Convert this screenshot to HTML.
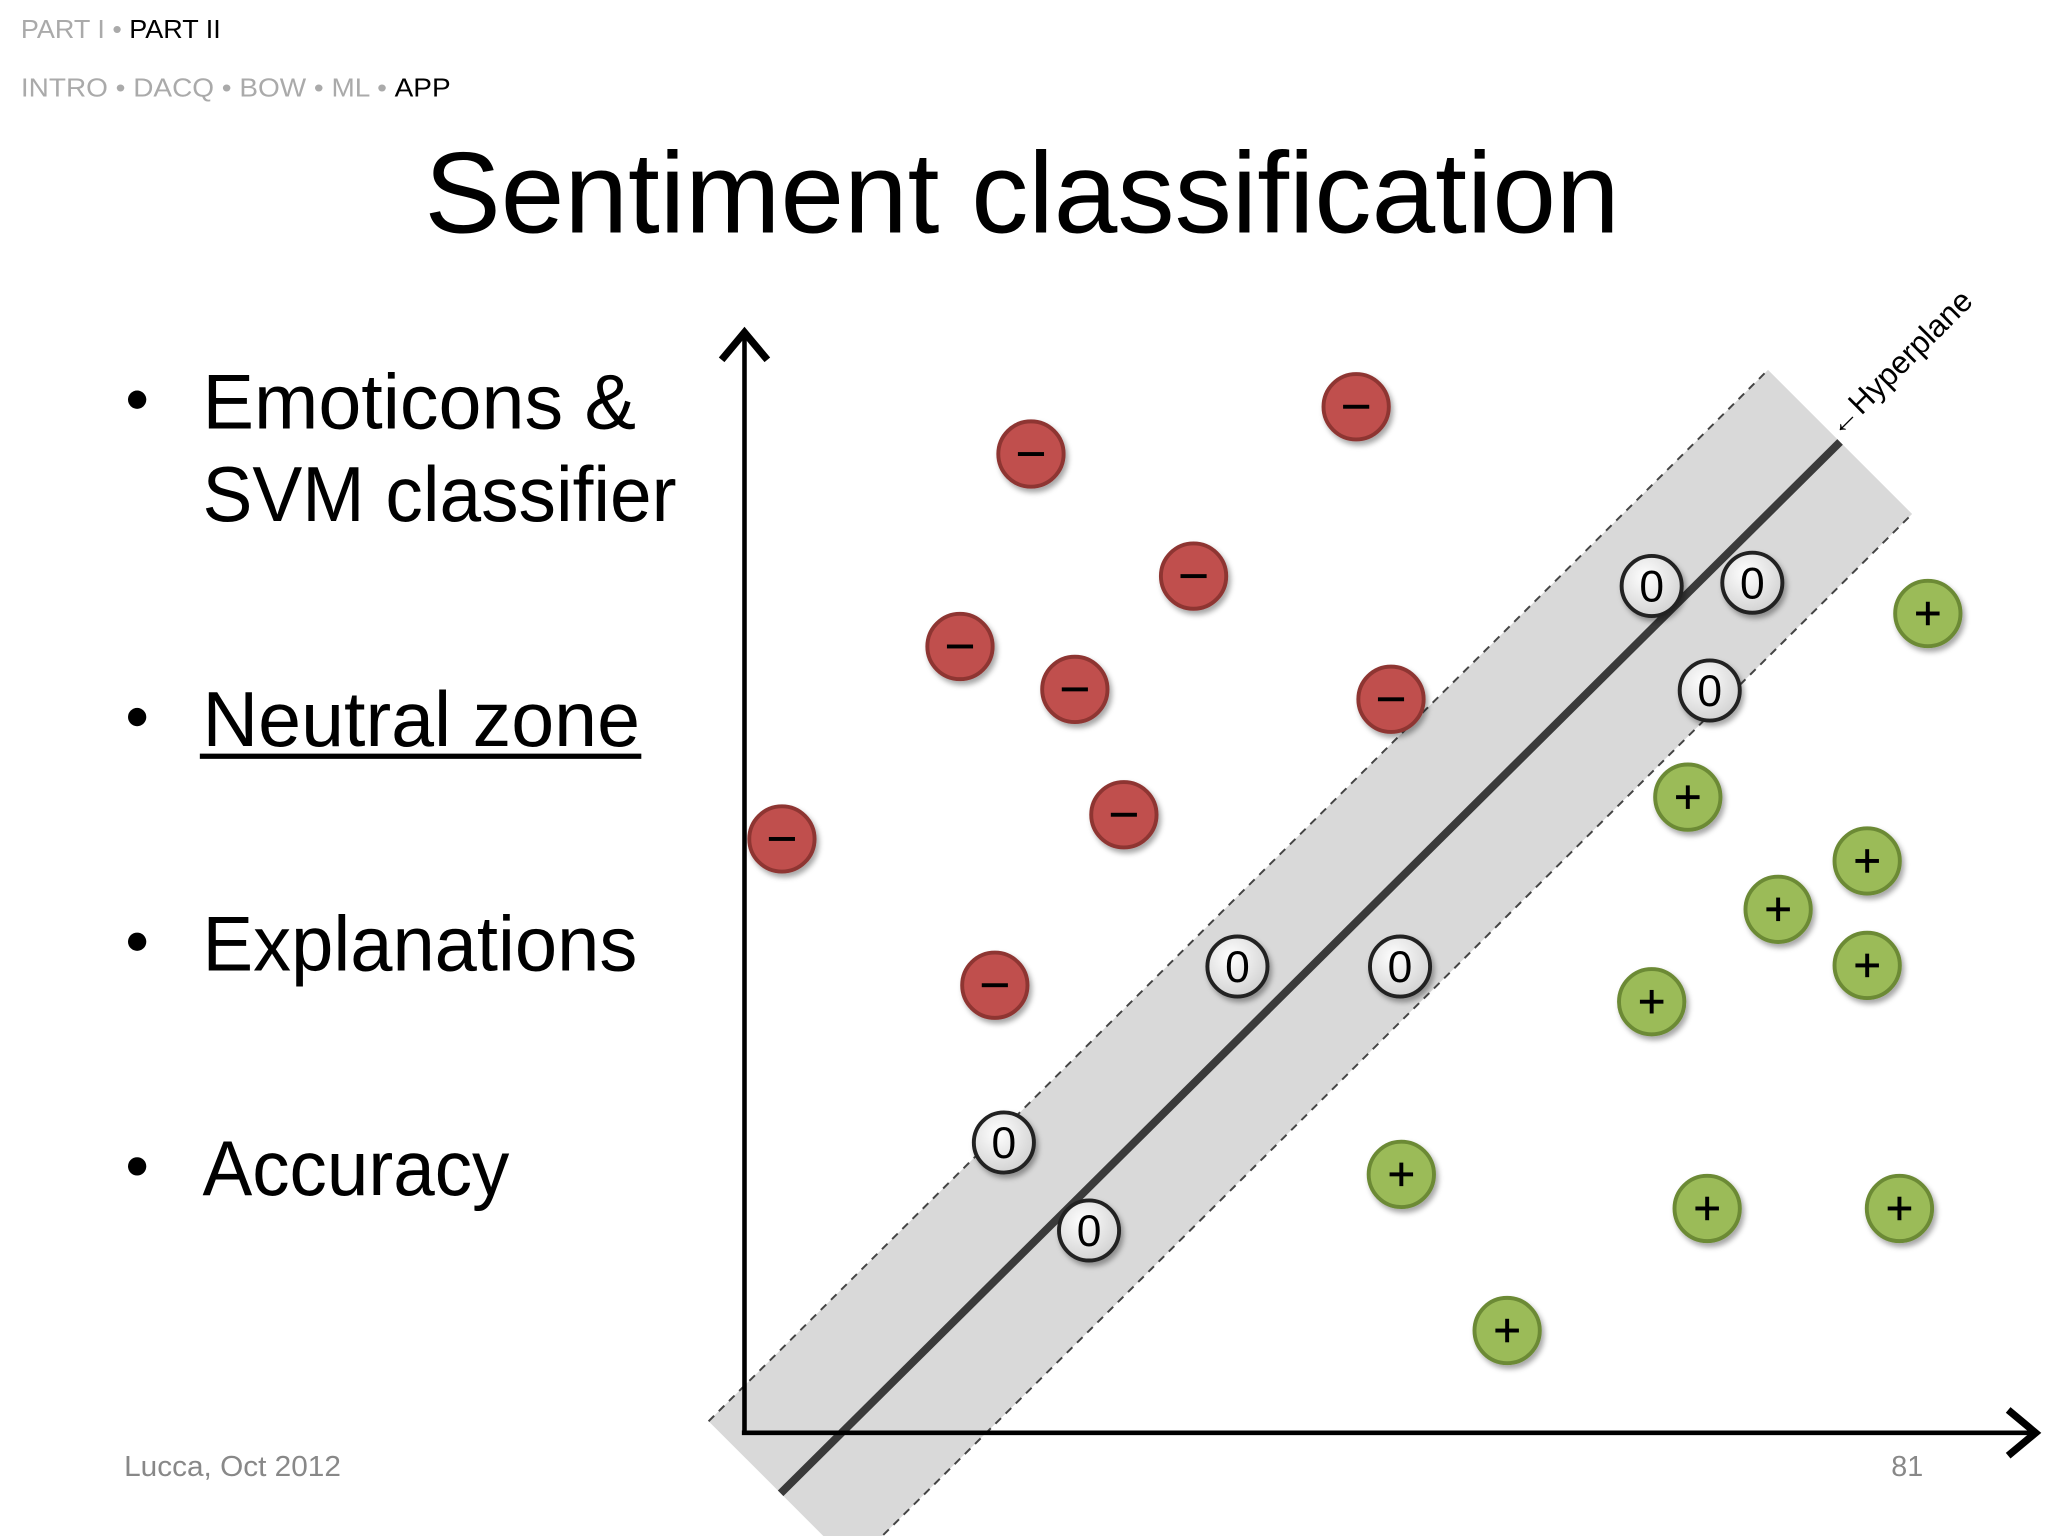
<!DOCTYPE html>
<html><head><meta charset="utf-8"><style>
html,body{margin:0;padding:0;background:#fff;width:2048px;height:1536px;overflow:hidden;}
svg{display:block;overflow:hidden;}
text{font-family:"Liberation Sans",sans-serif;}
</style></head><body>
<svg id="chart" width="2048" height="1536" viewBox="0 0 1568 1176" xmlns="http://www.w3.org/2000/svg">
<defs>
<radialGradient id="ng" cx="40%" cy="35%" r="70%"><stop offset="0" stop-color="#ffffff"/><stop offset="1" stop-color="#d0d0d0"/></radialGradient>
<filter id="sh" x="-50%" y="-50%" width="200%" height="200%"><feDropShadow dx="2" dy="3" stdDeviation="2" flood-color="#000" flood-opacity="0.35"/></filter>
<marker id="ah" markerWidth="12" markerHeight="12" refX="6" refY="6" orient="auto"><path d="M1,1 L7,6 L1,11" fill="none" stroke="#000" stroke-width="1.6"/></marker>
</defs>
<g font-size="20">
<text x="16" y="29" textLength="153" lengthAdjust="spacingAndGlyphs"><tspan fill="#aaa">PART I • </tspan><tspan fill="#000">PART II</tspan></text>
<text x="16" y="74" textLength="329" lengthAdjust="spacingAndGlyphs"><tspan fill="#aaa">INTRO • DACQ • BOW • ML • </tspan><tspan fill="#000">APP</tspan></text>
</g>
<text x="325" y="178" font-size="88" textLength="915" lengthAdjust="spacingAndGlyphs">Sentiment classification</text>
<g font-size="60" fill="#000">
<circle cx="105" cy="306" r="7"/><text x="155" y="328" textLength="332" lengthAdjust="spacingAndGlyphs">Emoticons &amp;</text>
<text x="155" y="399" textLength="363" lengthAdjust="spacingAndGlyphs">SVM classifier</text>
<circle cx="105" cy="549" r="7"/><text x="155" y="571" textLength="335" lengthAdjust="spacingAndGlyphs">Neutral zone</text>
<rect x="153" y="577" width="338" height="4"/>
<circle cx="105" cy="721" r="7"/><text x="155" y="743" textLength="333" lengthAdjust="spacingAndGlyphs">Explanations</text>
<circle cx="105" cy="893" r="7"/><text x="155" y="915" textLength="235" lengthAdjust="spacingAndGlyphs">Accuracy</text>
</g>
<text x="95" y="1130" font-size="22" fill="#888" textLength="166" lengthAdjust="spacingAndGlyphs">Lucca, Oct 2012</text>
<text x="1448" y="1130" font-size="22" fill="#888">81</text>
<g id="plot"></g>
</svg>
<script>
const negX=[47.4,22.2,34.8,16.7,25.6,50.1,29.4,2.9,19.4];
const negY=[93.3,89.0,77.9,71.5,67.6,66.7,56.2,54.0,40.7];
const neuX=[70.3,78.1,74.8,38.2,50.8,20.1,26.7];
const neuY=[77.0,77.3,67.5,42.4,42.4,26.4,18.4];
const posX=[91.7,73.1,87.0,80.1,87.0,70.3,50.9,74.6,89.5,59.1];
const posY=[74.5,57.8,52.0,47.6,42.5,39.2,23.5,20.4,20.4,9.3];
const hyperX=[2.8,84.9];
const hyperY=[-5.5,90.1];
const marginY=13.1;
const NS="http://www.w3.org/2000/svg";
const xS=v=>570+v*9.88, yS=v=>1097-v*8.42;
const g=document.getElementById('plot');
function mk(t,a,p){const e=document.createElementNS(NS,t);for(const k in a)e.setAttribute(k,a[k]);(p||g).appendChild(e);return e;}
const x0=xS(hyperX[0]),y0=yS(hyperY[0]),x1=xS(hyperX[1]),y1=yS(hyperY[1]);
const off=marginY*8.42;
const band=mk('polygon',{points:`${x0-off/2},${y0-off/2} ${x1-off/2},${y1-off/2} ${x1+off/2},${y1+off/2} ${x0+off/2},${y0+off/2}`,fill:'#d9d9d9'});


const du=mk('line',{x1:x0-off/2,y1:y0-off/2,x2:x1-off/2,y2:y1-off/2,stroke:'#444','stroke-width':1.5,'stroke-dasharray':'6,5'});


const dl=mk('line',{x1:x0+off/2,y1:y0+off/2,x2:x1+off/2,y2:y1+off/2,stroke:'#444','stroke-width':1.5,'stroke-dasharray':'6,5'});


const hp=mk('line',{x1:x0,y1:y0,x2:x1,y2:y1,stroke:'#3a3a3a','stroke-width':6});


const lab=mk('text',{x:x1+2,y:y1-4,'font-size':24,transform:`rotate(-45 ${x1+2} ${y1})`});
lab.textContent='←Hyperplane';


const ya=mk('line',{x1:570,y1:1097,x2:570,y2:258,stroke:'#000','stroke-width':3.5,'marker-end':'url(#ah)'});


const xa=mk('line',{x1:568,y1:1097,x2:1555,y2:1097,stroke:'#000','stroke-width':3.5,'marker-end':'url(#ah)'});


function pts(X,Y,fill,stroke,sym,name,r,fs){
 for(let i=0;i<X.length;i++){
  const cx=xS(X[i]),cy=yS(Y[i]);
  const gg=mk('g',{filter:'url(#sh)'});
  
  
  mk('circle',{cx,cy,r,fill,stroke,'stroke-width':3},gg);
  if(sym==='-')mk('rect',{x:cx-10,y:cy-1.5,width:20,height:3,fill:'#000'},gg);
  else if(sym==='+'){mk('rect',{x:cx-9,y:cy-1.5,width:18,height:3,fill:'#000'},gg);mk('rect',{x:cx-1.5,y:cy-9,width:3,height:18,fill:'#000'},gg);}
  else{const t=mk('text',{x:cx,y:cy+12,'font-size':fs,'text-anchor':'middle',fill:'#000'},gg);t.textContent=sym;}
 }
}
pts(negX,negY,'#c0504d','#8e3633','-','negative-point',25);
pts(neuX,neuY,'url(#ng)','#222','0','neutral-point',23,34);
pts(posX,posY,'#9bbb59','#6c8a36','+','positive-point',25);
</script>
</body></html>
